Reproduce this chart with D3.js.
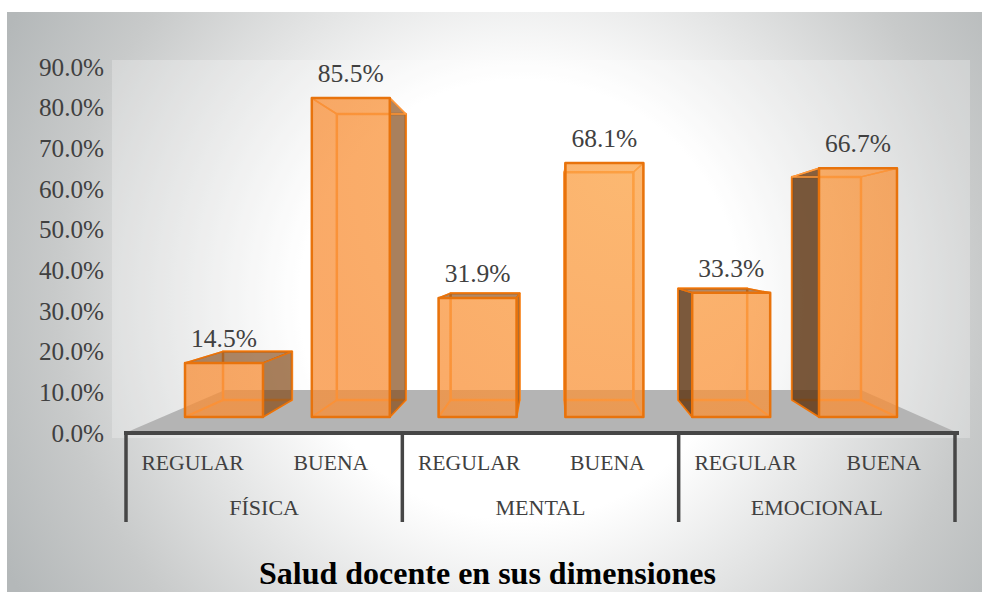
<!DOCTYPE html>
<html>
<head>
<meta charset="utf-8">
<script src="https://cdn.jsdelivr.net/npm/d3@7"></script>
<style>
  html, body { margin: 0; padding: 0; background: #fff; overflow: hidden; }
  svg { display: block; }
  text { font-family: "Liberation Serif", serif; fill: #404040; }
</style>
</head>
<body>
<div id="chart"></div>
<script>
// chart values
const bars = ["F-R", "F-B", "M-R", "M-B", "E-R", "E-B"];
const barLabels = ["REGULAR", "BUENA", "REGULAR", "BUENA", "REGULAR", "BUENA"];
const values = [14.5, 85.5, 31.9, 68.1, 33.3, 66.7];
const groups = ["FÍSICA", "MENTAL", "EMOCIONAL"];
const yTicks = [0, 10, 20, 30, 40, 50, 60, 70, 80, 90];
const title = "Salud docente en sus dimensiones";

const WIDTH = 982;
const HEIGHT = 592;

const svg = d3.select("#chart").append("svg")
  .attr("width", WIDTH)
  .attr("height", HEIGHT);

const defs = svg.append("defs");
const bg = defs.append("radialGradient")
  .attr("id", "bg")
  .attr("gradientUnits", "userSpaceOnUse")
  .attr("cx", 520).attr("cy", 300).attr("r", 580);
bg.append("stop").attr("offset", 0.38).attr("stop-color", "#ffffff");
bg.append("stop").attr("offset", 0.8).attr("stop-color", "#c8caca");
bg.append("stop").attr("offset", 1).attr("stop-color", "#b4b8b9");

// bars get a bit lighter towards the upper middle of the chart
const barFill = defs.append("radialGradient")
  .attr("id", "barFill")
  .attr("gradientUnits", "userSpaceOnUse")
  .attr("cx", 630).attr("cy", 170).attr("r", 330);
barFill.append("stop").attr("offset", 0).attr("stop-color", "#fba244");
barFill.append("stop").attr("offset", 1).attr("stop-color", "#f88e36");

// panel and wall
svg.append("rect")
  .attr("x", 7).attr("y", 12)
  .attr("width", WIDTH - 7).attr("height", HEIGHT - 12)
  .attr("fill", "url(#bg)");
svg.append("rect")
  .attr("x", 112).attr("y", 60)
  .attr("width", 858).attr("height", 378)
  .attr("fill", "#fff").attr("fill-opacity", 0.25);

// floor
svg.append("polygon")
  .attr("points", "125,433 225,390 861,390 958,433")
  .attr("fill", "#b4b4b4");

// the picture has perspective, so front and back of the boxes get their own scales
const xFront = d3.scaleBand().domain(bars).range([160.6, 921.4])
  .paddingInner(0.385).paddingOuter(0.1925);
const xBack = d3.scaleBand().domain(bars).range([200.6, 883.4])
  .paddingInner(0.394).paddingOuter(0.197);
const yFront = d3.scaleLinear().domain([0, 100]).range([417, 44]);
const yBack = d3.scaleLinear().domain([0, 100]).range([400, 65.5]);

const ORANGE = "#f98e37";
const EDGE = "#e8730c";
const INNER = "#ff9a3e";

function face(g, pts, fill, opacity, stroke, strokeWidth) {
  g.append("polygon")
    .attr("points", pts.map((p) => p.join(",")).join(" "))
    .attr("fill", fill)
    .attr("fill-opacity", opacity)
    .attr("stroke", stroke)
    .attr("stroke-width", strokeWidth)
    .attr("stroke-linejoin", "round");
}

bars.forEach((b, i) => {
  const g = svg.append("g").attr("class", "bar");
  const fx0 = xFront(b), fx1 = fx0 + xFront.bandwidth();
  const bx0 = xBack(b), bx1 = bx0 + xBack.bandwidth();
  const ft = yFront(values[i]), fb = yFront(0);
  const bt = yBack(values[i]), bb = yBack(0);

  // back and floor of the box
  face(g, [[bx0, bt], [bx1, bt], [bx1, bb], [bx0, bb]], ORANGE, 0.12, INNER, 2.5);
  face(g, [[fx0, fb], [fx1, fb], [bx1, bb], [bx0, bb]], ORANGE, 0.2, INNER, 2);

  // side faces, dark when seen from outside
  const leftOut = bx0 < fx0;
  const rightOut = bx1 > fx1;
  const topOut = bt < ft;
  face(g, [[fx0, ft], [bx0, bt], [bx0, bb], [fx0, fb]],
    leftOut ? "#5a3312" : ORANGE, leftOut ? 0.8 : 0.12, leftOut ? EDGE : INNER, 1.5);
  face(g, [[fx1, ft], [bx1, bt], [bx1, bb], [fx1, fb]],
    rightOut ? "#7b4312" : ORANGE, rightOut ? 0.65 : 0.12, rightOut ? EDGE : INNER, 1.5);
  face(g, [[fx0, ft], [fx1, ft], [bx1, bt], [bx0, bt]],
    topOut ? "#7b4312" : ORANGE, topOut ? 0.6 : 0.12, topOut ? EDGE : INNER, 1.5);

  // front
  face(g, [[fx0, ft], [fx1, ft], [fx1, fb], [fx0, fb]], "url(#barFill)", 0.72, EDGE, 2.5);

  g.append("text")
    .attr("x", (fx0 + fx1) / 2)
    .attr("y", ft - 16)
    .attr("text-anchor", "middle")
    .attr("font-size", 25.5)
    .text(values[i].toFixed(1) + "%");
});

// y axis, labels only
const yAxis = d3.scaleLinear().domain([0, 90]).range([433, 67]);
svg.append("g")
  .attr("transform", "translate(104,0)")
  .call(d3.axisLeft(yAxis).tickValues(yTicks).tickSize(0).tickPadding(0)
    .tickFormat((d) => d.toFixed(1) + "%"))
  .call((g) => g.select(".domain").remove())
  .call((g) => g.selectAll("text")
    .style("font-size", "25.2px")
    .style("font-family", '"Liberation Serif", serif')
    .style("fill", "#404040"));

// category axis with two levels
const xGroup = d3.scaleBand().domain(groups).range([126, 955]);
const xLabel = d3.scaleBand().domain(bars).range([123.5, 953]);
const AXIS = "#464646";

svg.append("line")
  .attr("x1", 124).attr("x2", 959)
  .attr("y1", 433).attr("y2", 433)
  .attr("stroke", AXIS).attr("stroke-width", 4);

svg.selectAll(".divider")
  .data([...groups.map((d) => xGroup(d)), xGroup.range()[1]])
  .join("line")
  .attr("class", "divider")
  .attr("x1", (d) => d).attr("x2", (d) => d)
  .attr("y1", 433).attr("y2", 522)
  .attr("stroke", AXIS).attr("stroke-width", 3.5);

svg.selectAll(".bar-label")
  .data(bars)
  .join("text")
  .attr("class", "bar-label")
  .attr("x", (d) => xLabel(d) + xLabel.bandwidth() / 2)
  .attr("y", 470)
  .attr("text-anchor", "middle")
  .attr("font-size", 21.7)
  .text((d, i) => barLabels[i]);

svg.selectAll(".group-label")
  .data(groups)
  .join("text")
  .attr("class", "group-label")
  .attr("x", (d) => xGroup(d) + xGroup.bandwidth() / 2)
  .attr("y", 515)
  .attr("text-anchor", "middle")
  .attr("font-size", 22)
  .text((d) => d);

svg.append("text")
  .attr("x", 487.5)
  .attr("y", 584)
  .attr("text-anchor", "middle")
  .attr("font-size", 32)
  .attr("font-weight", "bold")
  .style("fill", "#000")
  .text(title);
</script>
</body>
</html>
